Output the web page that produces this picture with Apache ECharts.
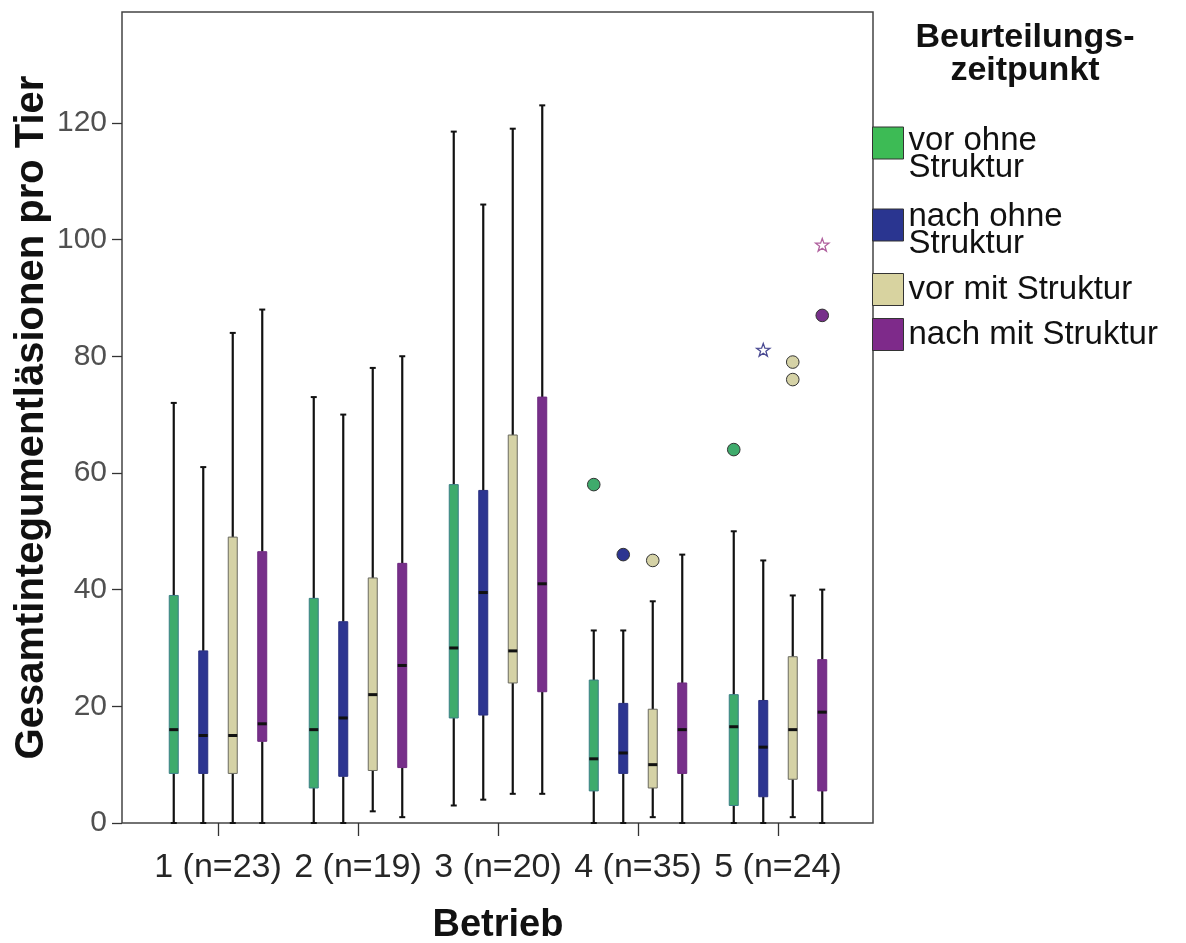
<!DOCTYPE html>
<html>
<head>
<meta charset="utf-8">
<script src="https://cdn.jsdelivr.net/npm/echarts@6/dist/echarts.min.js"></script>
<style>
  html, body { margin: 0; padding: 0; background: #ffffff; }
  #chart { width: 1186px; height: 943px; }
</style>
</head>
<body>
<div id="chart"></div>
<script>
// Betriebe (x categories) and assessment groups (legend)
const betriebe = ['1 (n=23)', '2 (n=19)', '3 (n=20)', '4 (n=35)', '5 (n=24)'];
const gruppen = ['vor ohne\nStruktur', 'nach ohne\nStruktur', 'vor mit Struktur', 'nach mit Struktur'];

// Box statistics per Betrieb: [min, Q1, median, Q3, max]
const vorOhne  = [[0, 8.5, 16, 39, 72], [0, 6, 16, 38.5, 73], [3, 18, 30, 58, 118.5], [0, 5.5, 11, 24.5, 33], [0, 3, 16.5, 22, 50]];
const nachOhne = [[0, 8.5, 15, 29.5, 61], [0, 8, 18, 34.5, 70], [4, 18.5, 39.5, 57, 106], [0, 8.5, 12, 20.5, 33], [0, 4.5, 13, 21, 45]];
const vorMit   = [[0, 8.5, 15, 49, 84], [2, 9, 22, 42, 78], [5, 24, 29.5, 66.5, 119], [1, 6, 10, 19.5, 38], [1, 7.5, 16, 28.5, 39]];
const nachMit  = [[0, 14, 17, 46.5, 88], [1, 9.5, 27, 44.5, 80], [5, 22.5, 41, 73, 123], [0, 8.5, 16, 24, 46], [0, 5.5, 19, 28, 40]];

// Outliers (circles): [Betrieb index, value]
const vorOhneAusreisser  = [[3, 58], [4, 64]];
const nachOhneAusreisser = [[3, 46]];
const vorMitAusreisser   = [[3, 45], [4, 79], [4, 76]];
const nachMitAusreisser  = [[4, 87]];

// Extreme values (stars): [Betrieb index, value]
const nachOhneExtrem = [[4, 81]];
const nachMitExtrem  = [[4, 99]];

// y axis ticks
const yTicks = [0, 20, 40, 60, 80, 100, 120];

const boxStats = [vorOhne, nachOhne, vorMit, nachMit];
const ausreisser = [vorOhneAusreisser, nachOhneAusreisser, vorMitAusreisser, nachMitAusreisser];
const extreme = [[], nachOhneExtrem, [], nachMitExtrem];

const FONT = '"Liberation Sans", Arial, Helvetica, sans-serif';
const boxFill   = ['#3fab6c', '#2d3591', '#d5d2a6', '#772f8a'];
const boxEdge   = ['#3b7f86', '#2a3080', '#6a6a60', '#6e2a80'];
const legendFill = ['#3dbb55', '#2a3590', '#d8d3a0', '#7e2a8a'];
const starColor = ['#3fab6c', '#4a4a92', '#b0ad80', '#b0609e'];
const INK = '#111111';

// horizontal slot of each group inside a Betrieb band
const SLOT = 0.2107;
function slotX(g, cat, api) {
  return api.coord([cat, 0])[0] + (g - 1.5) * SLOT * api.size([1, 0])[0];
}

function boxRenderer(g) {
  return function (params, api) {
    const cat = api.value(0);
    const x = slotX(g, cat, api);
    const y = function (v) { return api.coord([cat, v])[1]; };
    const yMin = y(api.value(1)), yQ1 = y(api.value(2)), yMed = y(api.value(3)),
          yQ3 = y(api.value(4)), yMax = y(api.value(5));
    const hw = 4.5, cap = 3;
    return {
      type: 'group',
      children: [
        { type: 'line', shape: { x1: x, y1: yMax, x2: x, y2: yQ3 }, style: { stroke: INK, lineWidth: 2.2 } },
        { type: 'line', shape: { x1: x, y1: yQ1, x2: x, y2: yMin }, style: { stroke: INK, lineWidth: 2.2 } },
        { type: 'line', shape: { x1: x - cap, y1: yMax, x2: x + cap, y2: yMax }, style: { stroke: INK, lineWidth: 2 } },
        { type: 'line', shape: { x1: x - cap, y1: yMin, x2: x + cap, y2: yMin }, style: { stroke: INK, lineWidth: 2 } },
        { type: 'rect', shape: { x: x - hw, y: yQ3, width: hw * 2, height: yQ1 - yQ3 },
          style: { fill: boxFill[g], stroke: boxEdge[g], lineWidth: 1 } },
        { type: 'line', shape: { x1: x - hw, y1: yMed, x2: x + hw, y2: yMed }, style: { stroke: INK, lineWidth: 3 } }
      ]
    };
  };
}

function circleRenderer(g) {
  return function (params, api) {
    const cat = api.value(0);
    return {
      type: 'circle',
      shape: { cx: slotX(g, cat, api), cy: api.coord([cat, api.value(1)])[1], r: 6.3 },
      style: { fill: boxFill[g], stroke: '#333333', lineWidth: 1 }
    };
  };
}

function starRenderer(g) {
  return function (params, api) {
    const cat = api.value(0);
    const cx = slotX(g, cat, api);
    const cy = api.coord([cat, api.value(1)])[1];
    const pts = [];
    for (let k = 0; k < 10; k++) {
      const r = k % 2 === 0 ? 7 : 2.8;
      const a = -Math.PI / 2 + k * Math.PI / 5;
      pts.push([cx + r * Math.cos(a), cy + r * Math.sin(a)]);
    }
    return {
      type: 'polygon',
      shape: { points: pts },
      style: { fill: '#ffffff', stroke: starColor[g], lineWidth: 1.3 }
    };
  };
}

const series = [];
gruppen.forEach(function (name, g) {
  series.push({
    name: name, type: 'custom', xAxisIndex: 0, yAxisIndex: 0,
    itemStyle: { color: legendFill[g] },
    renderItem: boxRenderer(g),
    encode: { x: 0, y: [1, 2, 3, 4, 5] },
    data: boxStats[g].map(function (d, i) { return [i].concat(d); })
  });
  series.push({
    name: name, type: 'custom', xAxisIndex: 0, yAxisIndex: 0,
    itemStyle: { color: legendFill[g] },
    renderItem: circleRenderer(g),
    encode: { x: 0, y: 1 },
    data: ausreisser[g]
  });
  if (extreme[g].length) {
    series.push({
      name: name, type: 'custom', xAxisIndex: 0, yAxisIndex: 0,
      itemStyle: { color: legendFill[g] },
      renderItem: starRenderer(g),
      encode: { x: 0, y: 1 },
      data: extreme[g]
    });
  }
});

// one legend block per group so each entry sits at its own height;
// two-line labels get an invisible spacer line that nudges them down
// against their colour square
const legendTop = [105, 193, 273, 318];
const legendSpacer = [22, 10, 0, 0];
const legends = gruppen.map(function (name, g) {
  return {
    data: [{
      name: name, icon: 'rect',
      itemStyle: { color: legendFill[g], borderColor: '#333333', borderWidth: 1 }
    }],
    left: 872, top: legendTop[g], orient: 'vertical', padding: 0,
    itemWidth: 31, itemHeight: 32, selectedMode: false,
    formatter: function (n) { return legendSpacer[g] ? '{sp| }\n' + n : n; },
    textStyle: {
      fontFamily: FONT, fontSize: 33, lineHeight: 27, color: INK,
      rich: { sp: { fontSize: 2, lineHeight: legendSpacer[g] || 1 } }
    }
  };
});

const chart = echarts.init(document.getElementById('chart'), null, { renderer: 'canvas' });
chart.setOption({
  backgroundColor: '#ffffff',
  animation: false,
  textStyle: { fontFamily: FONT },
  title: {
    text: 'Beurteilungs-\nzeitpunkt',
    left: 1025, top: 21, textAlign: 'center', padding: 0,
    textStyle: { fontFamily: FONT, fontSize: 34, fontWeight: 'bold', lineHeight: 33, color: INK }
  },
  legend: legends,
  grid: [
    { left: 148, right: 338, top: 12, bottom: 120, containLabel: false, outerBoundsMode: 'none' },
    { left: 122, right: 313, top: 12, bottom: 120, containLabel: false, outerBoundsMode: 'none',
      show: true, borderColor: '#444444', borderWidth: 1.5, backgroundColor: 'transparent' }
  ],
  xAxis: [
    {
      type: 'category', gridIndex: 0, data: betriebe, boundaryGap: true,
      name: 'Betrieb', nameLocation: 'middle', nameGap: 84, nameMoveOverlap: false,
      nameTextStyle: { fontFamily: FONT, fontSize: 38, fontWeight: 'bold', color: INK },
      axisLine: { show: false },
      axisTick: { show: true, alignWithLabel: true, length: 13, lineStyle: { color: '#333333', width: 1.3 } },
      axisLabel: { interval: 0, fontFamily: FONT, fontSize: 34, color: '#262626', margin: 28 },
      splitLine: { show: false }
    },
    { type: 'value', gridIndex: 1, show: false }
  ],
  yAxis: [
    {
      type: 'value', gridIndex: 0, min: 0, max: 139, interval: 20, offset: 26,
      name: 'Gesamtintegumentläsionen pro Tier', nameLocation: 'middle', nameGap: 70, nameMoveOverlap: false,
      nameTextStyle: { fontFamily: FONT, fontSize: 40, fontWeight: 'bold', color: INK },
      axisLine: { show: false },
      axisTick: { show: true, length: 10, customValues: yTicks, lineStyle: { color: '#333333', width: 1.3 } },
      axisLabel: { customValues: yTicks, fontFamily: FONT, fontSize: 30, color: '#505050', margin: 15 },
      splitLine: { show: false }
    },
    { type: 'value', gridIndex: 1, show: false, min: 0, max: 139 }
  ],
  series: series
});
</script>
</body>
</html>
